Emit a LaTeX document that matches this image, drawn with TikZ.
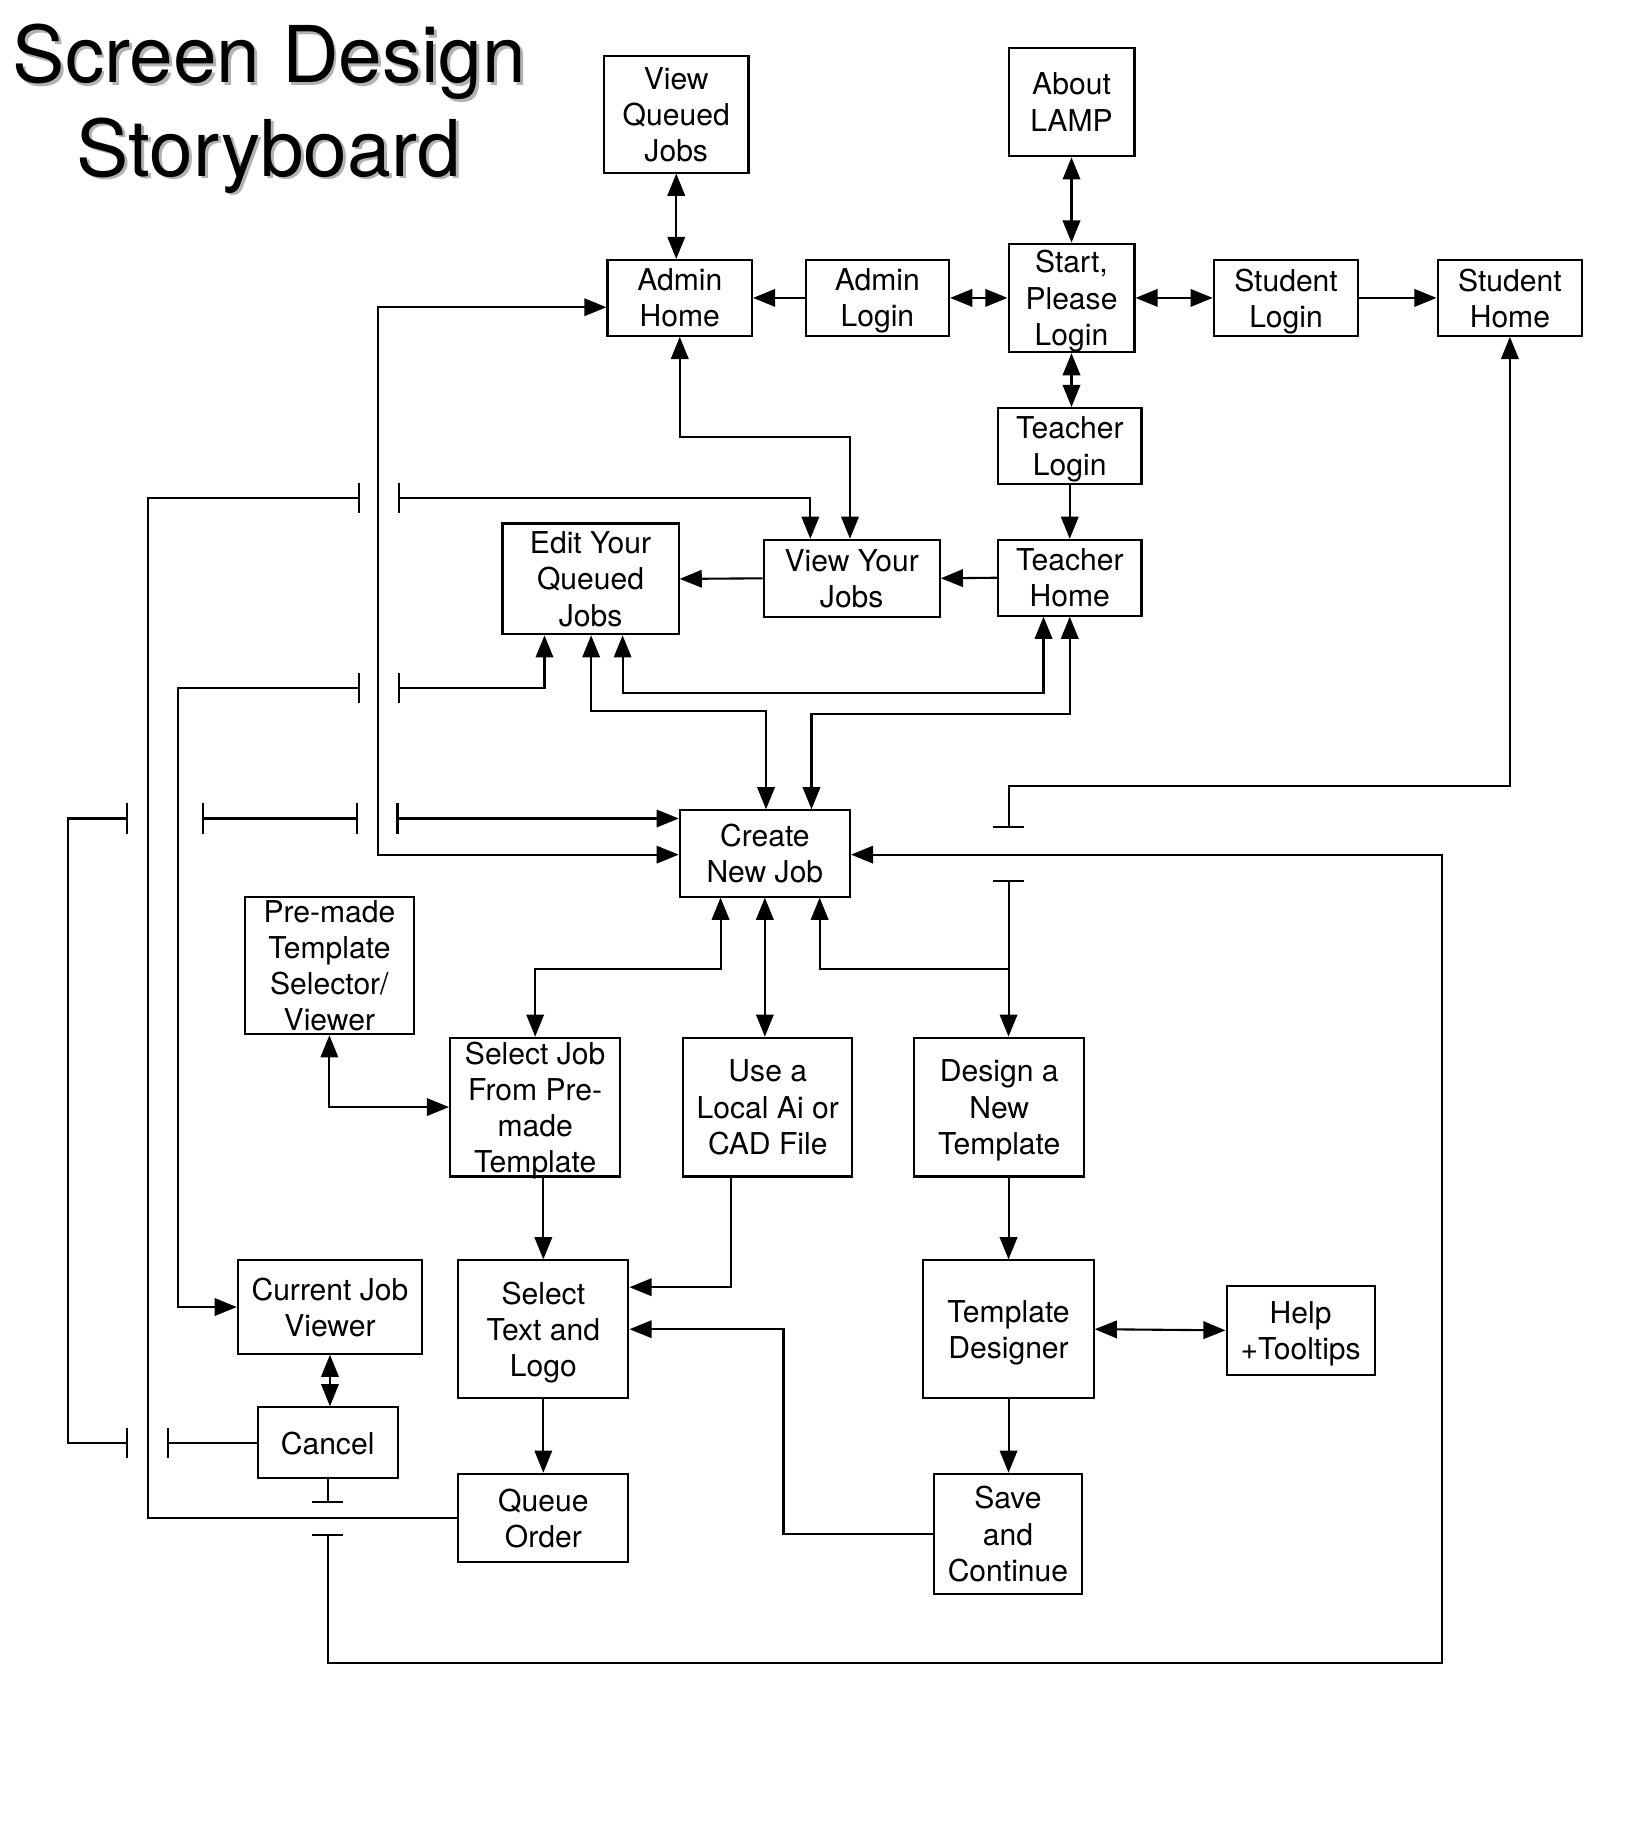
\documentclass[tikz,border=0pt]{standalone}
\usepackage{fontspec}
\setmainfont{TeX Gyre Heros}
\usetikzlibrary{arrows.meta}
\tikzset{
  box/.style={draw, line width=0.9pt, inner sep=0pt, align=center, text depth=0pt, font=\fontsize{12.9}{15.5}\selectfont},
  conn/.style={line width=0.9pt},
  >={Triangle[length=9.5pt,width=7.5pt]},
  barbar/.style={{Bar[width=13pt]}-{Bar[width=13pt]}},
  barto/.style={{Bar[width=13pt]}->},
  tobar/.style={-{Bar[width=13pt]}},
  arrbar/.style={<-{Bar[width=13pt]}},
  titlefont/.style={font=\fontsize{33.6}{40}\selectfont, anchor=base, inner sep=0pt},
}
\newcommand{\boxat}[6]{%
  \pgfmathsetmacro{\bw}{(#4-#2)*0.5}%
  \pgfmathsetmacro{\bh}{(#5-#3)*0.5}%
  \node[box, minimum width=\bw pt, minimum height=\bh pt] (#1) at ({(#2+#4)/2},{(#3+#5)/2}) {#6};}
\begin{document}
\begin{tikzpicture}[x=0.5pt,y=-0.5pt]
\fill[white] (0,0) rectangle (1410,1564.4);
\useasboundingbox (0,0) rectangle (1410,1564.4);
% title
\node[titlefont, text=black!30] (t1s) at (233.5,73.5) {Screen Design};
\node[titlefont, text=black!30] (t2s) at (233,153.5) {Storyboard};
\node[titlefont] (t1) at (231,70.6) {Screen Design};
\node[titlefont] (t2) at (230.5,151) {Storyboard};
% boxes
\boxat{vqj}{518}{48}{642}{148}{View\\Queued\\Jobs}
\boxat{about}{865}{41}{973}{134}{About\\LAMP}
\boxat{ahome}{521}{223}{645}{288}{Admin\\Home}
\boxat{alogin}{691}{223}{814}{288}{Admin\\Login}
\boxat{start}{865}{209}{973}{302}{Start,\\Please\\Login}
\boxat{slogin}{1041}{223}{1165}{288}{Student\\Login}
\boxat{shome}{1233}{223}{1357}{288}{Student\\Home}
\boxat{tlogin}{856}{350}{979}{415}{Teacher\\Login}
\boxat{thome}{856}{463}{979}{528}{Teacher\\Home}
\boxat{vyj}{655}{463}{806}{529}{View Your\\Jobs}
\boxat{eyq}{431}{449}{582}{544}{Edit Your\\Queued\\Jobs}
\boxat{cnj}{583}{695}{729}{769}{Create\\New Job}
\boxat{ptsv}{210}{769}{355}{887}{Pre-made\\Template\\Selector/\\Viewer}
\boxat{sjob}{386}{890}{532}{1009}{Select Job\\From Pre-\\made\\Template}
\boxat{ulocal}{586}{890}{731}{1009}{Use a\\Local Ai or\\CAD File}
\boxat{dnt}{784}{890}{930}{1009}{Design a\\New\\Template}
\boxat{cjv}{204}{1081}{362}{1161}{Current Job\\Viewer}
\boxat{stxt}{393}{1081}{539}{1199}{Select\\Text and\\Logo}
\boxat{cancel}{221}{1207}{341}{1268}{Cancel}
\boxat{qo}{393}{1264}{539}{1340}{Queue\\Order}
\boxat{td}{792}{1081}{938}{1199}{Template\\Designer}
\boxat{help}{1052}{1103}{1179}{1179}{Help\\+Tooltips}
\boxat{save}{801}{1264}{928}{1367}{Save\\and\\Continue}
% coordinates
\coordinate (c1) at (583,375); \coordinate (c2) at (729,375);
\coordinate (q1) at (127,1302); \coordinate (q2) at (127,427); \coordinate (q3) at (309,427);
\coordinate (q4) at (341,427); \coordinate (q5) at (695,427);
\coordinate (m1) at (153,1121); \coordinate (m2) at (153,590); \coordinate (m3) at (309,590);
\coordinate (m4) at (341,590); \coordinate (m5) at (467,590);
\coordinate (n1) at (507,610); \coordinate (n2) at (657,610);
\coordinate (o1) at (534,594); \coordinate (o2) at (895,594);
\coordinate (p1) at (917.5,612); \coordinate (p2) at (696,612);
\coordinate (s1) at (1295,674); \coordinate (s2) at (865,674); \coordinate (s3) at (865,710);
\coordinate (s4) at (865,755); \coordinate (s5) at (865,831); \coordinate (s6) at (703,831);
\coordinate (r1) at (1237,733); \coordinate (r2) at (1237,1426); \coordinate (r3) at (281,1426);
\coordinate (r4) at (281,1316); \coordinate (r5) at (281,1289);
\coordinate (k1) at (143,1237.5); \coordinate (k2) at (110,1237.5); \coordinate (k3) at (58,1237.5);
\coordinate (k4) at (58,702); \coordinate (k5) at (110,702); \coordinate (k6) at (173,702);
\coordinate (k7) at (307,702); \coordinate (k8) at (340,702);
\coordinate (u1) at (324,263.5); \coordinate (u2) at (324,733);
\coordinate (v1) at (618,831); \coordinate (v2) at (459,831);
\coordinate (w1) at (282.5,949.5);
\coordinate (x1) at (627,1104);
\coordinate (y1) at (672,1315.5); \coordinate (y2) at (672,1140);
% connectors
\draw[conn,<->] (vqj.south) -- (vqj.south |- ahome.north);
\draw[conn,->] (alogin.west) -- (ahome.east);
\draw[conn,<->] (alogin.east) -- (start.west);
\draw[conn,<->] (about.south) -- (start.north);
\draw[conn,<->] (start.east) -- (slogin.west);
\draw[conn,->] (slogin.east) -- (shome.west);
\draw[conn,<->] (start.south) -- (start.south |- tlogin.north);
\draw[conn,->] (tlogin.south) -- (tlogin.south |- thome.north);
\draw[conn,->] (thome.west) -- (vyj.east);
\draw[conn,->] (vyj.west) -- (eyq.east);
\draw[conn,<->] (ahome.south -| c1) -- (c1) -- (c2) -- (c2 |- vyj.north);
\draw[conn,tobar] (qo.west |- q1) -- (q1) -- (q2) -- (q3);
\draw[conn,barto] (q4) -- (q5) -- (q5 |- vyj.north);
\draw[conn,barto] (m3) -- (m2) -- (m1) -- (m1 -| cjv.west);
\draw[conn,barto] (m4) -- (m5) -- (m5 |- eyq.south);
\draw[conn,<->] (eyq.south -| n1) -- (n1) -- (n2) -- (n2 |- cnj.north);
\draw[conn,<->] (eyq.south -| o1) -- (o1) -- (o2) -- (o2 |- thome.south);
\draw[conn,<->] (thome.south -| p1) -- (p1) -- (p2) -- (p2 |- cnj.north);
\draw[conn,arrbar] (shome.south -| s1) -- (s1) -- (s2) -- (s3);
\draw[conn,barto] (s4) -- (s4 |- dnt.north);
\draw[conn,->] (s5) -- (s6) -- (s6 |- cnj.south);
\draw[conn,barto] (r4) -- (r3) -- (r2) -- (r1) -- (r1 -| cnj.east);
\draw[conn,tobar] (cancel.south -| r5) -- (r5);
\draw[conn,tobar] (cancel.west |- k1) -- (k1);
\draw[conn,barbar] (k2) -- (k3) -- (k4) -- (k5);
\draw[conn,barbar] (k6) -- (k7);
\draw[conn,barto] (k8) -- (k8 -| cnj.west);
\draw[conn,<->] (ahome.west |- u1) -- (u1) -- (u2) -- (u2 -| cnj.west);
\draw[conn,<->] (cnj.south -| v1) -- (v1) -- (v2) -- (v2 |- sjob.north);
\draw[conn,<->] (cnj.south) -- (cnj.south |- ulocal.north);
\draw[conn,<->] (ptsv.south -| w1) -- (w1) -- (w1 -| sjob.west);
\draw[conn,->] (sjob.south -| stxt.north) -- (stxt.north);
\draw[conn,->] (ulocal.south -| x1) -- (x1) -- (x1 -| stxt.east);
\draw[conn,->] (save.west |- y1) -- (y1) -- (y2) -- (y2 -| stxt.east);
\draw[conn,->] (stxt.south) -- (qo.north);
\draw[conn,<->] (cjv.south) -- (cjv.south |- cancel.north);
\draw[conn,->] (dnt.south -| td.north) -- (td.north);
\draw[conn,<->] (td.east) -- (help.west);
\draw[conn,->] (td.south) -- (td.south |- save.north);
\end{tikzpicture}
\end{document}
